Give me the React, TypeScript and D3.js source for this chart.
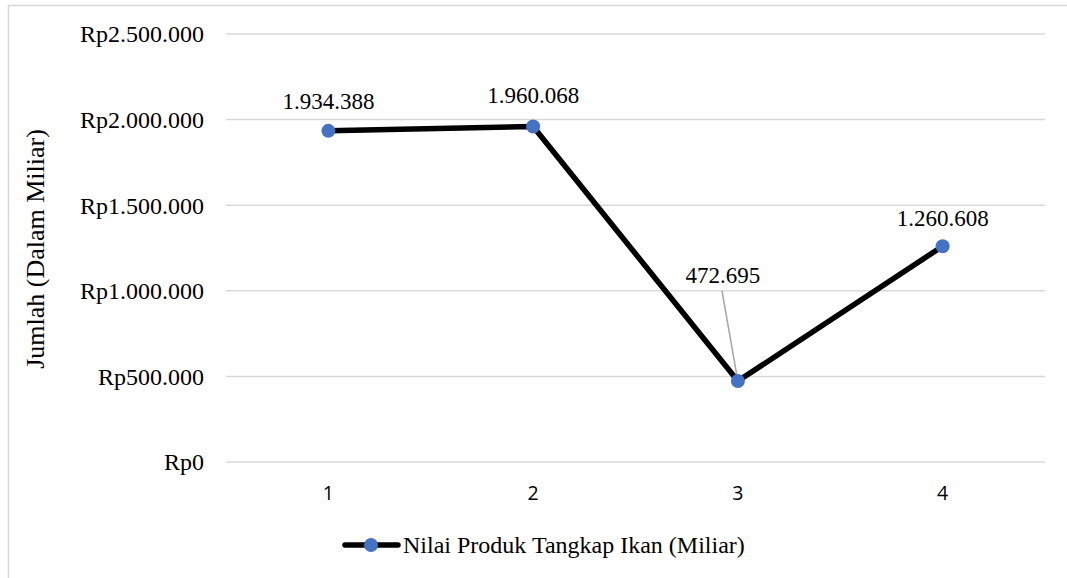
import { useEffect, useRef } from 'react'
import * as d3 from 'd3'

const categories = ['1', '2', '3', '4']
const values = [1934388, 1960068, 472695, 1260608]
const valueLabels = ['1.934.388', '1.960.068', '472.695', '1.260.608']
const yTicks = [0, 500000, 1000000, 1500000, 2000000, 2500000]
const yTickLabels = ['Rp0', 'Rp500.000', 'Rp1.000.000', 'Rp1.500.000', 'Rp2.000.000', 'Rp2.500.000']
const seriesName = 'Nilai Produk Tangkap Ikan (Miliar)'

export default function App() {
  const svgRef = useRef<SVGSVGElement>(null)

  useEffect(() => {
    const svg = d3.select(svgRef.current)
    svg.selectAll('*').remove()
    const serif = "'Liberation Serif', serif"
    const sans = "'Open Sans', sans-serif"

    const x = d3.scaleBand().domain(categories).range([226, 1045])
    const y = d3.scaleLinear().domain([0, 2500000]).range([462, 34])
    const cx = (c: string) => (x(c) as number) + x.bandwidth() / 2

    // outer frame
    svg.append('rect')
      .attr('x', 8.5).attr('y', 5.5).attr('width', 1080).attr('height', 600)
      .attr('fill', 'white').attr('stroke', '#d9d9d9').attr('stroke-width', 1.5)

    // gridlines
    svg.append('g').selectAll('line').data(yTicks).join('line')
      .attr('x1', 226).attr('x2', 1045)
      .attr('y1', d => y(d)).attr('y2', d => y(d))
      .attr('stroke', '#d9d9d9').attr('stroke-width', 1.5)

    // y labels
    svg.append('g').selectAll('text').data(yTicks).join('text')
      .attr('x', 204).attr('y', d => y(d))
      .attr('dy', '0.35em').attr('text-anchor', 'end')
      .style('font-family', serif).style('font-size', '24px').attr('fill', '#000')
      .text((d, i) => yTickLabels[i])

    // x labels
    svg.append('g').selectAll('text').data(categories).join('text')
      .attr('x', d => cx(d)).attr('y', 493)
      .attr('dy', '0.35em').attr('text-anchor', 'middle')
      .style('font-family', sans).style('font-size', '19.5px').attr('fill', '#000')
      .text(d => d)

    // axis title
    svg.append('text')
      .attr('transform', 'translate(44,249) rotate(-90)')
      .attr('text-anchor', 'middle')
      .style('font-family', serif).style('font-size', '26px').attr('fill', '#000')
      .text('Jumlah (Dalam Miliar)')

    const pts = categories.map((c, i) => [cx(c), y(values[i])] as [number, number])

    // leader line for label 3
    svg.append('line')
      .attr('x1', 722).attr('y1', 291).attr('x2', pts[2][0]).attr('y2', pts[2][1])
      .attr('stroke', '#a6a6a6').attr('stroke-width', 1.5)

    const line = d3.line<[number, number]>()
    svg.append('path')
      .attr('d', line(pts))
      .attr('fill', 'none').attr('stroke', '#000').attr('stroke-width', 5.5)
      .attr('stroke-linejoin', 'round')

    svg.append('g').selectAll('circle').data(pts).join('circle')
      .attr('cx', d => d[0]).attr('cy', d => d[1]).attr('r', 7)
      .attr('fill', '#4472c4')

    // data labels
    const labelOffset = [[0, -30], [0, -31], [-15, -106], [0, -28]]
    svg.append('g').selectAll('text').data(pts).join('text')
      .attr('x', (d, i) => d[0] + labelOffset[i][0])
      .attr('y', (d, i) => d[1] + labelOffset[i][1])
      .attr('dy', '0.35em').attr('text-anchor', 'middle')
      .style('font-family', serif).style('font-size', '23px').attr('fill', '#000')
      .text((d, i) => valueLabels[i])

    // legend
    const lg = svg.append('g')
    lg.append('line').attr('x1', 345).attr('x2', 398).attr('y1', 545).attr('y2', 545)
      .attr('stroke', '#000').attr('stroke-width', 5.5).attr('stroke-linecap', 'round')
    lg.append('circle').attr('cx', 371).attr('cy', 545).attr('r', 7).attr('fill', '#4472c4')
    lg.append('text').attr('x', 403).attr('y', 545).attr('dy', '0.35em')
      .style('font-family', serif).style('font-size', '24px').attr('fill', '#000')
      .text(seriesName)
  }, [])

  return (
    <svg ref={svgRef} width={1067} height={578}
      style={{ position: 'absolute', left: 0, top: 0, background: 'white' }} />
  )
}
